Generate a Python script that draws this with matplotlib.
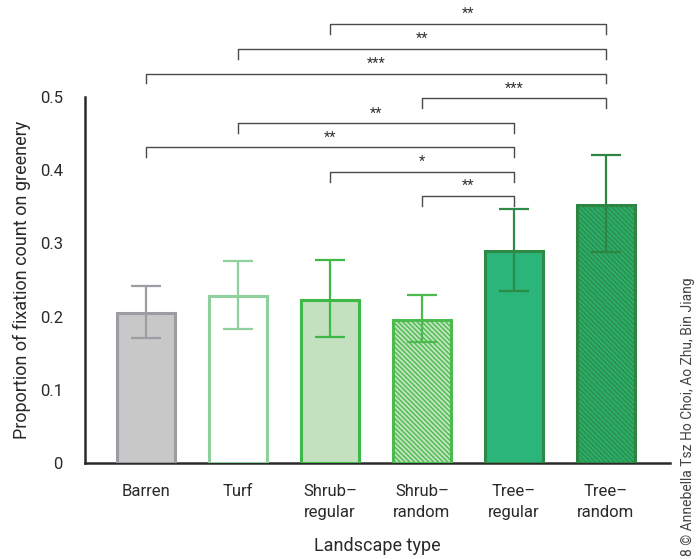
import matplotlib
matplotlib.use("Agg")
import matplotlib.pyplot as plt

plt.rcParams['font.family'] = ['Roboto', 'DejaVu Sans']
plt.rcParams['hatch.linewidth'] = 1.1

categories = ["Barren", "Turf", "Shrub–\nregular", "Shrub–\nrandom", "Tree–\nregular", "Tree–\nrandom"]
means = [0.205, 0.228, 0.223, 0.195, 0.290, 0.352]
err_low = [0.171, 0.183, 0.172, 0.165, 0.235, 0.288]
err_high = [0.242, 0.276, 0.277, 0.229, 0.347, 0.421]

fill_colors = ["#c8c8c9", "#ffffff", "#c3e1bf", "#c3e4bf", "#2bb57a", "#2aae70"]
edge_colors = ["#9b9da3", "#8fd09d", "#3fb84a", "#4cbb4f", "#2e8b47", "#2e8442"]
hatches = [None, None, None, "\\" * 7, None, "\\" * 7]
hatch_colors = [None, None, None, "#52bd55", None, "#2d9149"]

# (left index, right index, label, bracket height)
comparisons = [
    (2, 5, "**", 0.600),
    (1, 5, "**", 0.566),
    (0, 5, "***", 0.532),
    (3, 5, "***", 0.498),
    (1, 4, "**", 0.464),
    (0, 4, "**", 0.431),
    (2, 4, "*", 0.398),
    (3, 4, "**", 0.365),
]

fig = plt.figure(figsize=(6.99, 5.59), dpi=100)
ax = fig.add_axes([0.1216, 0.1717, 0.8369, 0.6548])

x = list(range(len(categories)))
width = 0.63
for i in x:
    if hatches[i]:
        ax.bar(i, means[i], width, color=fill_colors[i], edgecolor=hatch_colors[i],
               hatch=hatches[i], linewidth=0, zorder=2)
        ax.bar(i, means[i], width, fill=False, edgecolor=edge_colors[i],
               linewidth=2.2, zorder=3)
    else:
        ax.bar(i, means[i], width, color=fill_colors[i], edgecolor=edge_colors[i],
               linewidth=2.2, zorder=3)
    ax.errorbar(i, means[i],
                yerr=[[means[i] - err_low[i]], [err_high[i] - means[i]]],
                fmt="none", ecolor=edge_colors[i], elinewidth=1.6,
                capsize=11, capthick=1.6, zorder=4)

drop = 0.0135
for a, b, label, h in comparisons:
    ax.plot([a, a, b, b], [h - drop, h, h, h - drop], color="#4a4a4a",
            linewidth=1.0, clip_on=False, zorder=5)
    ax.text((a + b) / 2, h + 0.004, label, ha="center", va="bottom",
            fontsize=10.5, color="#333333", clip_on=False)

ax.set_xlim(-0.663, 5.696)
ax.set_ylim(0, 0.5)
ax.set_yticks([0, 0.1, 0.2, 0.3, 0.4, 0.5])
ax.set_yticklabels(["0", "0.1", "0.2", "0.3", "0.4", "0.5"])
ax.set_xticks(x)
ax.set_xticklabels(categories, linespacing=1.55)
ax.tick_params(axis="both", length=0, labelsize=12, labelcolor="#2a2a2a")
ax.tick_params(axis="y", pad=16)
ax.tick_params(axis="x", pad=15)
for s in ["top", "right"]:
    ax.spines[s].set_visible(False)
for s in ["left", "bottom"]:
    ax.spines[s].set_linewidth(1.8)
    ax.spines[s].set_color("#2a2a2a")

ax.set_ylabel("Proportion of fixation count on greenery", fontsize=13,
              color="#2a2a2a", labelpad=6)
fig.text(0.5402, 0.024, "Landscape type", ha="center", va="center",
         fontsize=13, color="#2a2a2a")

fig.text(0.984, 0.005, "8 © Annebella Tsz Ho Choi, Ao Zhu, Bin Jiang",
         rotation=90, ha="center", va="bottom", fontsize=10, color="#444444")

fig.savefig("out.png", dpi=100)
